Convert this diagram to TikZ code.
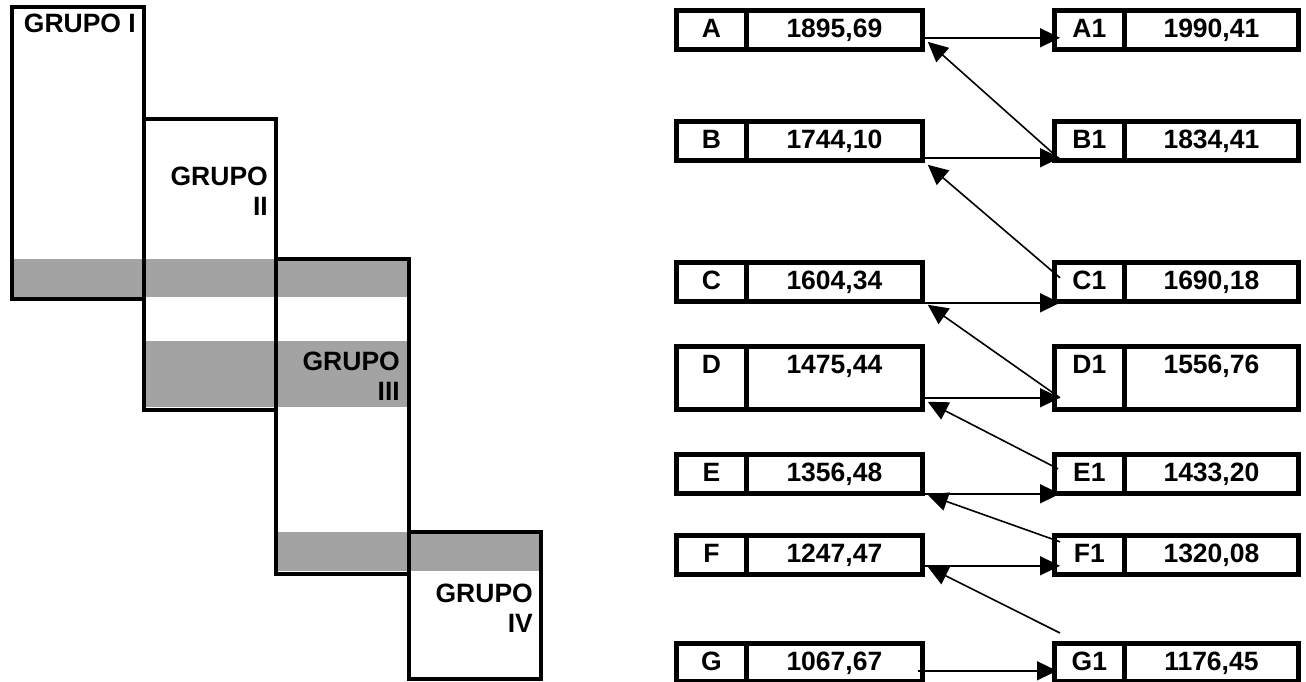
\documentclass[tikz,border=0pt]{standalone}
\usepackage{fontspec}
\setmainfont{Liberation Sans}
\usetikzlibrary{arrows.meta}
\begin{document}
\begin{tikzpicture}[x=1pt,y=-1pt,
  every node/.style={font=\fontsize{26.5}{30}\selectfont\bfseries},
  band/.style={fill=black!36, draw=none},
  grp/.style={draw, line width=4.8pt},
  cellbox/.style={draw, line width=4.8pt, inner sep=0pt, anchor=north west,
    minimum width=#1, text height=27pt},
  rowstd/.style={text depth=12pt},
  rowtall/.style={text depth=36pt},
  grplabel/.style={anchor=base east, inner sep=0pt},
  arr/.style={line width=1.6pt, -{Triangle[length=20pt,width=19pt]}}
]
\useasboundingbox (0,0) rectangle (1306,682);

% shaded bands
\fill[band] (12,259) rectangle (409,297);
\fill[band] (144,341) rectangle (409,407);
\fill[band] (276,532) rectangle (541,571);

% group outlines
\draw[grp] (12,7) rectangle (144,299);
\draw[grp] (144,119) rectangle (276,410);
\draw[grp] (276,259) rectangle (409,574);
\draw[grp] (409,532) rectangle (541,679);

% group labels
\node[grplabel] (t1) at (136,33) {GRUPO I};
\node[grplabel] (t2a) at (268,185) {GRUPO};
\node[grplabel] (t2b) at (268,215) {II};
\node[grplabel] (t3a) at (400,370) {GRUPO};
\node[grplabel] (t3b) at (400,400) {III};
\node[grplabel] (t4a) at (533,602) {GRUPO};
\node[grplabel] (t4b) at (533,632) {IV};

% left column
\node[cellbox=70pt, rowstd]  (A)  at (674,8)   {A};
\node[cellbox=176pt, rowstd] (Av) at (744,8)   {1895,69};
\node[cellbox=70pt, rowstd]  (B)  at (674,119) {B};
\node[cellbox=176pt, rowstd] (Bv) at (744,119) {1744,10};
\node[cellbox=70pt, rowstd]  (C)  at (674,260) {C};
\node[cellbox=176pt, rowstd] (Cv) at (744,260) {1604,34};
\node[cellbox=70pt, rowtall]  (D)  at (674,344) {D};
\node[cellbox=176pt, rowtall] (Dv) at (744,344) {1475,44};
\node[cellbox=70pt, rowstd]  (E)  at (674,452) {E};
\node[cellbox=176pt, rowstd] (Ev) at (744,452) {1356,48};
\node[cellbox=70pt, rowstd]  (F)  at (674,533) {F};
\node[cellbox=176pt, rowstd] (Fv) at (744,533) {1247,47};
\node[cellbox=70pt, rowstd, text depth=11pt]  (G)  at (674,641) {G};
\node[cellbox=176pt, rowstd, text depth=11pt] (Gv) at (744,641) {1067,67};

% right column
\node[cellbox=70pt, rowstd]  (A1)  at (1052,8)   {A1};
\node[cellbox=174pt, rowstd] (A1v) at (1122,8)   {1990,41};
\node[cellbox=70pt, rowstd]  (B1)  at (1052,119) {B1};
\node[cellbox=174pt, rowstd] (B1v) at (1122,119) {1834,41};
\node[cellbox=70pt, rowstd]  (C1)  at (1052,260) {C1};
\node[cellbox=174pt, rowstd] (C1v) at (1122,260) {1690,18};
\node[cellbox=70pt, rowtall]  (D1)  at (1052,344) {D1};
\node[cellbox=174pt, rowtall] (D1v) at (1122,344) {1556,76};
\node[cellbox=70pt, rowstd]  (E1)  at (1052,452) {E1};
\node[cellbox=174pt, rowstd] (E1v) at (1122,452) {1433,20};
\node[cellbox=70pt, rowstd]  (F1)  at (1052,533) {F1};
\node[cellbox=174pt, rowstd] (F1v) at (1122,533) {1320,08};
\node[cellbox=70pt, rowstd, text depth=11pt]  (G1)  at (1052,641) {G1};
\node[cellbox=174pt, rowstd, text depth=11pt] (G1v) at (1122,641) {1176,45};

% horizontal arrows
\draw[arr] ([xshift=-3pt,yshift=14pt]Av.south east) -- ([xshift=8pt,yshift=14pt]A1.south west);
\draw[arr] ([xshift=-3pt,yshift=5pt]Bv.south east) -- ([xshift=8pt,yshift=5pt]B1.south west);
\draw[arr] ([xshift=-3pt,yshift=1pt]Cv.south east) -- ([xshift=8pt,yshift=1pt]C1.south west);
\draw[arr] ([xshift=-3pt,yshift=14pt]Dv.south east) -- ([xshift=8pt,yshift=14pt]D1.south west);
\draw[arr] ([xshift=-3pt,yshift=2pt]Ev.south east) -- ([xshift=8pt,yshift=2pt]E1.south west);
\draw[arr] ([xshift=-3pt,yshift=11pt]Fv.south east) -- ([xshift=8pt,yshift=11pt]F1.south west);
\draw[arr] ([xshift=-7pt,yshift=13pt]Gv.south east) -- ([xshift=5pt,yshift=13pt]G1.south west);

% diagonal arrows
\draw[arr] ([xshift=6pt,yshift=5pt]B1.south west) -- ([xshift=3pt,yshift=10pt]Av.south east);
\draw[arr] ([xshift=8pt,yshift=26pt]C1.south west) -- ([xshift=3pt,yshift=-2pt]Bv.south east);
\draw[arr] ([xshift=8pt,yshift=14pt]D1.south west) -- ([xshift=3pt,yshift=-1pt]Cv.south east);
\draw[arr] ([xshift=6pt,yshift=27pt]E1.south west) -- ([xshift=3pt,yshift=10pt]Dv.south east);
\draw[arr] ([xshift=8pt,yshift=35pt]F1.south west) -- ([xshift=3pt,yshift=1pt]Ev.south east);
\draw[arr] ([xshift=8pt,yshift=8pt]G1.north west) -- ([xshift=3pt,yshift=10pt]Fv.south east);
\end{tikzpicture}
\end{document}
